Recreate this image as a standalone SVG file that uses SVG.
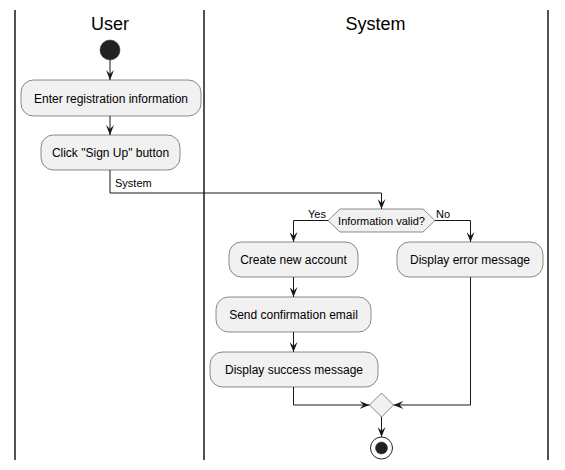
<svg xmlns="http://www.w3.org/2000/svg" width="565" height="470" viewBox="0 0 565 470">
<style>
.lane{stroke:#181818;stroke-width:1.5;fill:none}
.hdr{font-family:"Liberation Sans",Arial,sans-serif;font-size:18px;fill:#000;text-anchor:middle}
.act{fill:#F1F1F1;stroke:#181818;stroke-width:0.5}
.txt{font-family:"Liberation Sans",Arial,sans-serif;font-size:12px;fill:#000;text-anchor:middle}
.lbl{font-family:"Liberation Sans",Arial,sans-serif;font-size:11px;fill:#000}
.edge{stroke:#181818;stroke-width:1;fill:none;marker-end:url(#arr)}
</style>
<defs>
<marker id="arr" viewBox="0 0 10 8" refX="10" refY="4" markerWidth="10" markerHeight="8" markerUnits="userSpaceOnUse" orient="auto">
<path d="M0,0 L10,4 L0,8 L4,4 Z" fill="#181818"/>
</marker>
</defs>
<rect width="565" height="470" fill="#FFFFFF"/>
<g id="lanes">
<line class="lane" x1="15" y1="10" x2="15" y2="460"/>
<line class="lane" x1="204" y1="10" x2="204" y2="460"/>
<line class="lane" x1="548" y1="10" x2="548" y2="460"/>
<text class="hdr" x="110" y="30">User</text>
<text class="hdr" x="375.5" y="30">System</text>
</g>
<g id="connectors">
<path class="edge" d="M110,60 L110,80"/>
<path class="edge" d="M110,116 L110,135"/>
<path class="edge" d="M110,170 L110,193 L381.5,193 L381.5,209"/>
<text class="lbl" x="115" y="187">System</text>
<path class="edge" d="M328,220.5 L293.5,220.5 L293.5,242"/>
<text class="lbl" x="326" y="218" text-anchor="end">Yes</text>
<path class="edge" d="M435,220.5 L470.5,220.5 L470.5,242"/>
<text class="lbl" x="436" y="218">No</text>
<path class="edge" d="M293.5,277 L293.5,297"/>
<path class="edge" d="M293.5,332 L293.5,352"/>
<path class="edge" d="M293.5,387 L293.5,405 L369.5,405"/>
<path class="edge" d="M470.5,277 L470.5,405 L393.5,405"/>
<path class="edge" d="M381.5,417 L381.5,437"/>
</g>
<g id="start">
<circle cx="110" cy="50" r="10" fill="#222222" stroke="#222222" stroke-width="0.5"/>
</g>
<g id="enter">
<rect class="act" x="21" y="80" width="180" height="36" rx="12.5"/>
<text class="txt" x="111" y="102.5">Enter registration information</text>
</g>
<g id="click">
<rect class="act" x="41" y="135" width="139" height="35" rx="12.5"/>
<text class="txt" x="110.5" y="157">Click "Sign Up" button</text>
</g>
<g id="decision">
<polygon class="act" points="328,220.5 340,209 423,209 435,220.5 423,232 340,232"/>
<text class="lbl" x="381.5" y="224.5" text-anchor="middle">Information valid?</text>
</g>
<g id="create">
<rect class="act" x="229" y="242" width="129" height="35" rx="12.5"/>
<text class="txt" x="293.5" y="264">Create new account</text>
</g>
<g id="error">
<rect class="act" x="397" y="242" width="146" height="35" rx="12.5"/>
<text class="txt" x="470" y="264">Display error message</text>
</g>
<g id="send">
<rect class="act" x="216" y="297" width="155" height="35" rx="12.5"/>
<text class="txt" x="293.5" y="319">Send confirmation email</text>
</g>
<g id="success">
<rect class="act" x="210" y="352" width="168" height="35" rx="12.5"/>
<text class="txt" x="294" y="374">Display success message</text>
</g>
<g id="merge">
<polygon class="act" points="381.5,393 393.5,405 381.5,417 369.5,405"/>
</g>
<g id="end">
<circle cx="381.5" cy="448" r="11" fill="none" stroke="#222222" stroke-width="1"/>
<circle cx="381.5" cy="448" r="6" fill="#222222" stroke="#222222" stroke-width="0.5"/>
</g>
</svg>
